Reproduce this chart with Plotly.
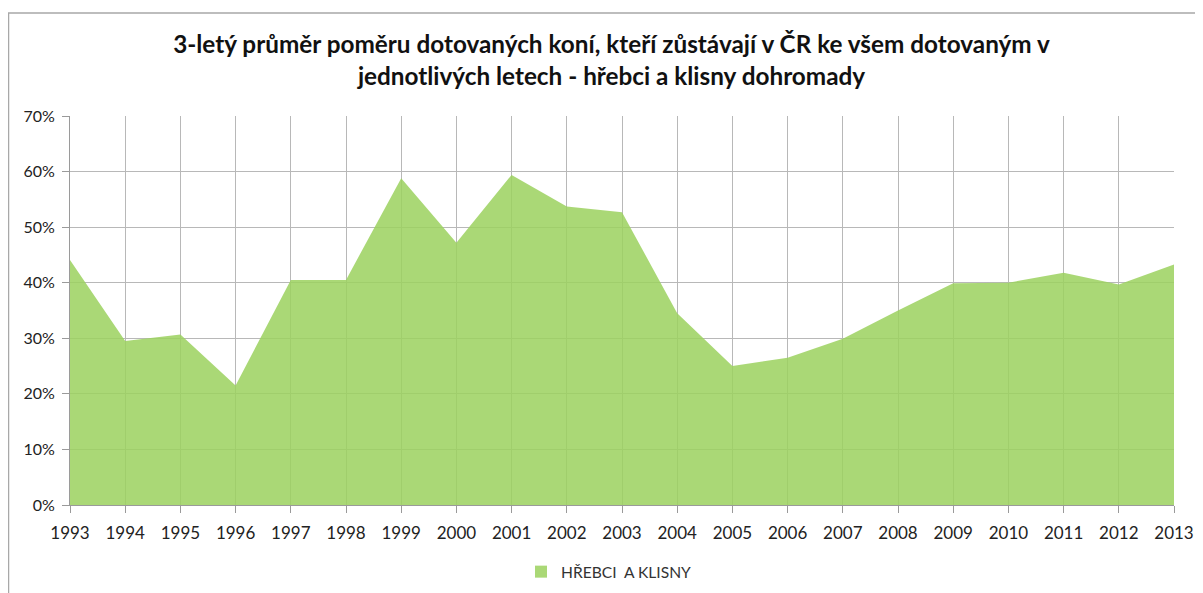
import plotly.graph_objects as go

years = list(range(1993, 2014))
values = [0.441, 0.295, 0.307, 0.215, 0.405, 0.405, 0.588, 0.472, 0.594, 0.537,
          0.527, 0.345, 0.250, 0.265, 0.299, 0.350, 0.399, 0.400, 0.418, 0.397, 0.433]
series_name = "HŘEBCI  A KLISNY"
title_text = ("3-letý průměr poměru dotovaných koní, kteří zůstávají v ČR ke všem dotovaným v<br>"
              "jednotlivých letech - hřebci a klisny dohromady")

GREEN = "rgba(155,209,94,0.85)"

fig = go.Figure()
fig.add_trace(go.Scatter(
    x=years, y=values, name=series_name, mode="lines", showlegend=False,
    fill="tozeroy", line=dict(width=0, color=GREEN), fillcolor=GREEN,
))
# legend entry with a square swatch
fig.add_trace(go.Scatter(
    x=[None], y=[None], name=series_name, mode="markers", showlegend=True,
    marker=dict(symbol="square", size=12, color="rgb(170,216,118)"),
))

# page body has an 8px margin; figure sized to the visible area
W, H = 1195, 585
L, R, T, B = 62, 29, 108, 88
pw, ph = W - L - R, H - T - B

def px_x(x):
    return (x - L) / pw

def px_y(y):
    return (T + ph - y) / ph

font_family = "Lato, 'Open Sans', Arial, sans-serif"
fig.update_layout(
    width=W, height=H,
    margin=dict(l=L, r=R, t=T, b=B),
    paper_bgcolor="white", plot_bgcolor="white",
    font=dict(family=font_family, size=17, color="#222"),
    title=dict(text="<b>" + title_text + "</b>", x=0.5 + 6 / W, xanchor="center",
               y=1 - 45 / H, yanchor="middle",
               font=dict(family=font_family, size=24.3, color="#111")),
    showlegend=True,
    legend=dict(orientation="h", xref="container", yref="container",
                x=513 / W, xanchor="left",
                y=1 - 564 / H, yanchor="middle",
                font=dict(size=15.6, color="#333")),
    shapes=[dict(type="rect", xref="paper", yref="paper",
                 x0=px_x(0.5), x1=px_x(1250),
                 y0=px_y(650), y1=px_y(5),
                 line=dict(color="#a8a8a8", width=1.5), fillcolor="rgba(0,0,0,0)", layer="below")],
)
fig.update_xaxes(range=[1993, 2013], dtick=1, tick0=1993, showgrid=True, automargin=False,
                 gridcolor="#b8b8b8", gridwidth=1, showline=True, linecolor="#9a9a9a",
                 ticks="outside", ticklen=7, tickcolor="#9a9a9a", zeroline=False,
                 ticklabelstandoff=6,
                 tickfont=dict(size=17, color="#222"))
fig.update_yaxes(range=[0, 0.7], dtick=0.1, tickformat=".0%", showgrid=True, automargin=False,
                 gridcolor="#b8b8b8", gridwidth=1, showline=True, linecolor="#9a9a9a",
                 ticks="outside", ticklen=7, tickcolor="#9a9a9a", zeroline=False,
                 ticklabelstandoff=4,
                 tickfont=dict(size=16, color="#222"))

fig.write_html("out.html")
